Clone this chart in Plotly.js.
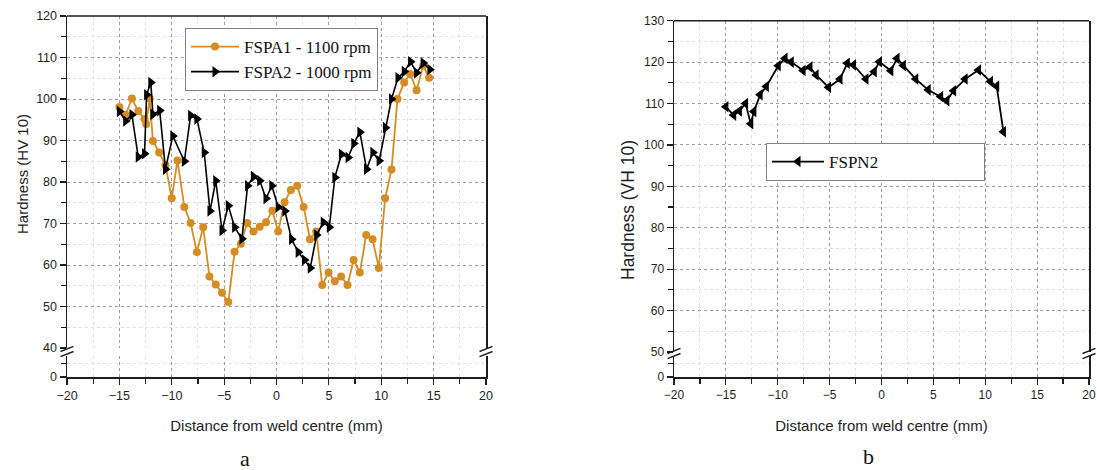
<!DOCTYPE html>
<html>
<head>
<meta charset="utf-8">
<script src="https://cdn.plot.ly/plotly-3.0.1.min.js"></script>
<style>
html,body{margin:0;padding:0;background:#ffffff;}
#chart{width:1097px;height:470px;}
</style>
</head>
<body>
<div id="chart"></div>
<script>
// ---------- data ----------
const fspa1Name = 'FSPA1 - 1100 rpm';
const fspa1X = [-15.0, -14.4, -13.8, -13.2, -12.6, -12.45, -12.1, -11.8, -11.2, -10.6, -10.0, -9.45, -8.8, -8.2, -7.6, -7.0, -6.4, -5.8, -5.2, -4.6, -4.0, -3.4, -2.8, -2.2, -1.6, -1.0, -0.4, 0.16, 0.77, 1.37, 1.98, 2.59, 3.19, 3.79, 4.36, 4.97, 5.57, 6.17, 6.78, 7.36, 7.96, 8.56, 9.17, 9.77, 10.37, 10.98, 11.55, 12.19, 12.76, 13.37, 14.0, 14.57];
const fspa1Y = [98.1, 96.2, 100.1, 97.1, 95.2, 94.0, 100.1, 89.9, 87.1, 84.1, 76.1, 85.2, 74.0, 70.1, 63.1, 69.1, 57.2, 55.3, 53.3, 51.1, 63.2, 65.1, 70.1, 68.1, 69.2, 70.3, 73.1, 68.1, 75.1, 78.1, 79.1, 74.0, 66.2, 68.1, 55.2, 58.2, 56.1, 57.2, 55.2, 61.2, 58.2, 67.2, 66.2, 59.3, 76.1, 83.0, 100.0, 104.0, 106.0, 102.1, 108.0, 105.1];

const fspa2Name = 'FSPA2 - 1000 rpm';
const fspa2X = [-15.0, -14.4, -13.8, -13.2, -12.6, -12.4, -12.0, -11.8, -11.15, -10.6, -9.9, -8.8, -8.2, -7.6, -6.9, -6.35, -5.8, -5.2, -4.6, -4.0, -3.3, -2.76, -2.2, -1.6, -1.0, -0.45, 0.16, 0.8, 1.44, 2.07, 2.67, 3.22, 3.83, 4.46, 5.04, 5.57, 6.2, 6.84, 7.38, 7.96, 8.6, 9.2, 9.8, 10.4, 10.98, 11.6, 12.2, 12.8, 13.37, 14.0, 14.64];
const fspa2Y = [97.0, 94.7, 96.2, 86.0, 86.8, 101.0, 104.0, 96.3, 97.2, 83.1, 91.1, 85.0, 96.0, 95.2, 87.1, 73.0, 80.3, 68.3, 74.3, 69.1, 66.3, 79.1, 81.3, 80.3, 76.0, 79.1, 74.0, 73.0, 66.2, 63.1, 61.2, 59.3, 67.2, 70.3, 69.1, 81.1, 86.7, 85.9, 89.3, 92.0, 83.1, 87.1, 85.1, 93.1, 100.0, 105.1, 106.6, 109.0, 106.3, 108.7, 107.1];

const fspn2Name = 'FSPN2';
const fspn2X = [-15.0, -14.25, -13.7, -13.1, -12.6, -12.3, -11.7, -11.1, -9.95, -9.3, -8.7, -7.56, -6.9, -6.3, -5.1, -4.0, -3.3, -2.7, -1.5, -0.7, -0.2, 0.9, 1.5, 2.1, 3.3, 4.5, 5.7, 6.3, 6.95, 8.06, 9.35, 10.5, 11.1, 11.75];
const fspn2Y = [109.2, 107.2, 108.2, 110.0, 105.1, 108.1, 112.1, 114.1, 119.1, 120.9, 120.0, 118.0, 118.8, 116.9, 113.9, 115.9, 119.7, 119.3, 115.9, 117.7, 120.1, 117.9, 120.9, 119.2, 115.9, 113.3, 111.7, 110.7, 113.1, 115.9, 118.1, 115.3, 114.2, 103.2];

const xRange = [-20, 20];
const yRangeA = [40, 120];
const yRangeB = [50, 130];
const yRangeLow = [0, 5];
const xTitle = 'Distance from weld centre (mm)';
const yTitleA = 'Hardness (HV 10)';
const yTitleB = 'Hardness (VH 10)';
const panelLabels = ['a', 'b'];

// ---------- layout helpers ----------
const W = 1097, H = 470;
const fx = p => p / W;          // pixel -> paper x
const fy = p => 1 - p / H;      // pixel -> paper y

const sans = 'Liberation Sans, Arial, sans-serif';
const serif = 'Liberation Serif, Times New Roman, serif';
const ink = '#1e1e1e';

function xAxis(domain, anchor, tickSize) {
  return {
    domain: domain, anchor: anchor, range: xRange, tickmode: 'linear', tick0: 0, dtick: 5,
    showline: true, linecolor: ink, linewidth: 1.5,
    ticks: 'outside', ticklen: 6, tickwidth: 1.2, tickcolor: ink,
    tickfont: {family: sans, size: tickSize, color: ink},
    showgrid: true, gridcolor: '#9c9c9c', griddash: 'dot', gridwidth: 1,
    zeroline: false, fixedrange: true,
    minor: {dtick: 2.5, ticks: 'outside', ticklen: 5, tickwidth: 1.2, tickcolor: ink,
            showgrid: true, gridcolor: '#e0e0e0', griddash: 'dot', gridwidth: 1},
    title: {text: xTitle, font: {family: sans, size: 15, color: ink}, standoff: 19}
  };
}
function yUpper(domain, anchor, range, tickSize) {
  return {
    domain: domain, anchor: anchor, range: range, tickmode: 'linear', tick0: 0, dtick: 10,
    showline: true, mirror: true, linecolor: ink, linewidth: 1.5,
    ticks: 'outside', ticklen: 6, tickwidth: 1.2, tickcolor: ink,
    tickfont: {family: sans, size: tickSize, color: ink},
    showgrid: true, gridcolor: '#9c9c9c', griddash: 'dot', gridwidth: 1,
    zeroline: false, fixedrange: true,
    minor: {dtick: 5, ticks: 'outside', ticklen: 5, tickwidth: 1.2, tickcolor: ink,
            showgrid: true, gridcolor: '#e0e0e0', griddash: 'dot', gridwidth: 1}
  };
}
function yLower(domain, anchor, tickSize) {
  return {
    domain: domain, anchor: anchor, range: yRangeLow, tickmode: 'array', tickvals: [0],
    showline: true, mirror: true, linecolor: ink, linewidth: 1.5,
    ticks: 'outside', ticklen: 6, tickwidth: 1.2, tickcolor: ink,
    tickfont: {family: sans, size: tickSize, color: ink},
    showgrid: false, zeroline: false, fixedrange: true,
    minor: {tickmode: 'array', tickvals: [3.2], ticks: 'outside', ticklen: 5, tickwidth: 1.2,
            tickcolor: ink, showgrid: true, gridcolor: '#e0e0e0', griddash: 'dot'}
  };
}
// axis break marks "//" drawn on a spine
function breakMarks(cx, cy) {
  const out = [];
  [-2.6, 2.6].forEach(d => {
    out.push({type: 'line', xref: 'paper', yref: 'paper',
      x0: fx(cx - 6.5), y0: fy(cy + d + 2.6), x1: fx(cx + 6.5), y1: fy(cy + d - 2.6),
      line: {color: ink, width: 1.4}});
  });
  return out;
}

// ---------- traces ----------
// Each series is drawn on both segments of its broken y axis (upper and lower);
// the lower segment (0-5) simply contains no data.
const orange = 'rgb(214,140,36)';
function series(x, y, name, xa, yUp, yLow, legend, line, marker) {
  const base = {x: x, y: y, name: name, type: 'scatter', mode: 'lines+markers',
                xaxis: xa, line: line, marker: marker, cliponaxis: true, hoverinfo: 'skip'};
  return [
    Object.assign({}, base, {yaxis: yUp, legend: legend}),
    Object.assign({}, base, {yaxis: yLow, showlegend: false})
  ];
}
const traces = [].concat(
  series(fspa1X, fspa1Y, fspa1Name, 'x', 'y2', 'y', 'legend',
         {color: orange, width: 1.8}, {symbol: 'circle', size: 8, color: orange}),
  series(fspa2X, fspa2Y, fspa2Name, 'x', 'y2', 'y', 'legend',
         {color: '#000', width: 1.6}, {symbol: 'triangle-right', size: 10, color: '#000'}),
  series(fspn2X, fspn2Y, fspn2Name, 'x2', 'y4', 'y3', 'legend2',
         {color: '#000', width: 1.8}, {symbol: 'triangle-left', size: 10, color: '#000'})
);

// ---------- geometry (pixels) ----------
const A = {left: 67, right: 486, top: 16, upBottom: 348, lowTop: 356, bottom: 377};
const B = {left: 674, right: 1089, top: 20.7, upBottom: 352, lowTop: 356, bottom: 377};

const layout = {
  width: W, height: H,
  margin: {l: 0, r: 0, t: 0, b: 0, pad: 0},
  paper_bgcolor: '#ffffff', plot_bgcolor: 'rgba(0,0,0,0)',
  showlegend: true,
  xaxis: xAxis([fx(A.left), fx(A.right)], 'y', 12.5),
  yaxis: yLower([fy(A.bottom), fy(A.lowTop)], 'x', 12.5),
  yaxis2: yUpper([fy(A.upBottom), fy(A.top)], 'x', yRangeA, 12.5),
  xaxis2: xAxis([fx(B.left), fx(B.right)], 'y3', 12),
  yaxis3: yLower([fy(B.bottom), fy(B.lowTop)], 'x2', 12),
  yaxis4: yUpper([fy(B.upBottom), fy(B.top)], 'x2', yRangeB, 12),
  legend: {x: fx(185), y: fy(28), xanchor: 'left', yanchor: 'top', itemwidth: 48,
           bgcolor: '#ffffff', bordercolor: '#808080', borderwidth: 1,
           font: {family: serif, size: 17, color: '#111'}, tracegroupgap: 0},
  legend2: {x: fx(766), y: fy(143), xanchor: 'left', yanchor: 'top', orientation: 'h',
            itemwidth: 52, entrywidth: 150, bgcolor: '#ffffff', bordercolor: '#808080', borderwidth: 1,
            font: {family: serif, size: 17, color: '#111'}},
  shapes: [
    // top frame lines
    {type: 'line', xref: 'x domain', yref: 'y2 domain', x0: 0, x1: 1, y0: 1, y1: 1, line: {color: ink, width: 1.5}},
    {type: 'line', xref: 'x2 domain', yref: 'y4 domain', x0: 0, x1: 1, y0: 1, y1: 1, line: {color: ink, width: 1.5}}
  ].concat(breakMarks(A.left, 351.5), breakMarks(A.right, 351.5),
           breakMarks(B.left, 353.5), breakMarks(B.right, 353.5)),
  annotations: [
    {text: yTitleA, xref: 'paper', yref: 'paper', x: fx(22), y: fy(174), textangle: -90,
     showarrow: false, xanchor: 'center', yanchor: 'middle', font: {family: sans, size: 15, color: ink}},
    {text: yTitleB, xref: 'paper', yref: 'paper', x: fx(628), y: fy(210), textangle: -90,
     showarrow: false, xanchor: 'center', yanchor: 'middle', font: {family: sans, size: 17.5, color: ink}},
    {text: panelLabels[0], xref: 'paper', yref: 'paper', x: fx(245), y: fy(458),
     showarrow: false, xanchor: 'center', yanchor: 'middle', font: {family: serif, size: 22, color: '#111'}},
    {text: panelLabels[1], xref: 'paper', yref: 'paper', x: fx(868), y: fy(456),
     showarrow: false, xanchor: 'center', yanchor: 'middle', font: {family: serif, size: 22, color: '#111'}}
  ]
};

Plotly.newPlot('chart', traces, layout, {displayModeBar: false, staticPlot: true});
</script>
</body>
</html>
